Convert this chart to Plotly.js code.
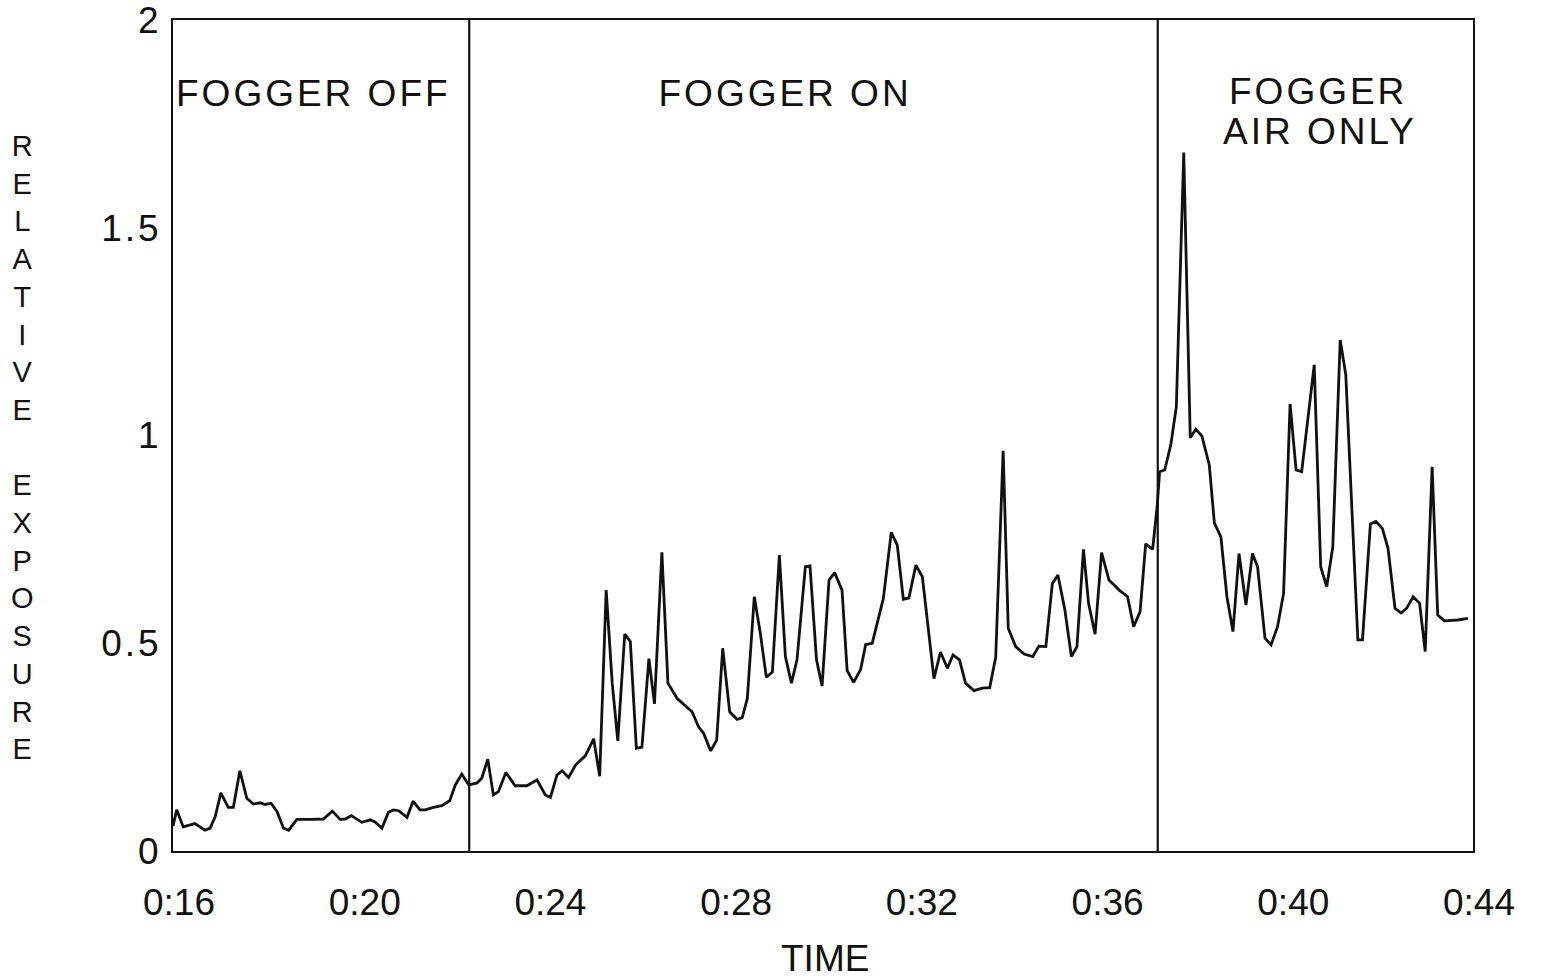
<!DOCTYPE html>
<html>
<head>
<meta charset="utf-8">
<script src="https://cdn.plot.ly/plotly-3.0.1.min.js"></script>
<style>
  html, body { margin: 0; padding: 0; background: #ffffff; }
  #chart { width: 1544px; height: 979px; }
  #chart .annotation-text.phase { letter-spacing: 3px; }
  #chart .ytick text { letter-spacing: 3px; }
</style>
</head>
<body>
<div id="chart"></div>
<script>
// Time in minutes after start (0:16 = 16 min)
const timeMin = [
  16.00, 16.08, 16.22, 16.47, 16.69, 16.80, 16.91, 17.03, 17.19, 17.30,
  17.44, 17.59, 17.73, 17.88, 17.98, 18.11, 18.24, 18.38, 18.49, 18.67,
  18.95, 19.24, 19.43, 19.60, 19.71, 19.84, 20.07, 20.25, 20.35, 20.50,
  20.64, 20.75, 20.86, 21.04, 21.17, 21.32, 21.43, 21.61, 21.79, 21.96,
  22.08, 22.22, 22.37, 22.55, 22.65, 22.78, 22.90, 23.01, 23.17, 23.37,
  23.62, 23.84, 24.02, 24.13, 24.27, 24.38, 24.52, 24.67, 24.88, 25.06,
  25.19, 25.33, 25.46, 25.58, 25.73, 25.85, 25.98, 26.10, 26.25, 26.37,
  26.53, 26.66, 26.86, 27.18, 27.32, 27.43, 27.58, 27.71, 27.84, 27.99,
  28.15, 28.26, 28.37, 28.52, 28.65, 28.78, 28.91, 29.06, 29.19, 29.32,
  29.44, 29.62, 29.72, 29.86, 29.98, 30.13, 30.25, 30.41, 30.52, 30.66,
  30.81, 30.92, 31.06, 31.30, 31.47, 31.60, 31.73, 31.85, 32.00, 32.14,
  32.39, 32.53, 32.68, 32.80, 32.94, 33.07, 33.25, 33.43, 33.59, 33.72,
  33.88, 33.99, 34.15, 34.33, 34.52, 34.65, 34.80, 34.94, 35.06, 35.21,
  35.35, 35.47, 35.61, 35.72, 35.86, 36.00, 36.16, 36.38, 36.56, 36.69,
  36.83, 36.95, 37.10, 37.20, 37.25, 37.36, 37.49, 37.61, 37.77, 37.91,
  38.03, 38.16, 38.32, 38.43, 38.57, 38.70, 38.83, 38.96, 39.11, 39.25,
  39.36, 39.52, 39.65, 39.79, 39.92, 40.06, 40.19, 40.31, 40.58, 40.72,
  40.85, 40.98, 41.14, 41.26, 41.52, 41.62, 41.79, 41.91, 42.05, 42.17,
  42.32, 42.45, 42.57, 42.71, 42.85, 42.97, 43.12, 43.24, 43.38, 43.67,
  43.89
];

const relativeExposure = [
  0.060, 0.099, 0.058, 0.066, 0.050, 0.055, 0.083, 0.140, 0.105, 0.105,
  0.193, 0.127, 0.113, 0.116, 0.112, 0.115, 0.095, 0.055, 0.050, 0.076,
  0.076, 0.077, 0.096, 0.076, 0.077, 0.085, 0.069, 0.075, 0.070, 0.055,
  0.093, 0.099, 0.097, 0.081, 0.120, 0.099, 0.099, 0.105, 0.109, 0.121,
  0.159, 0.185, 0.159, 0.164, 0.175, 0.221, 0.135, 0.143, 0.189, 0.157,
  0.157, 0.171, 0.135, 0.129, 0.183, 0.193, 0.177, 0.207, 0.229, 0.270,
  0.180, 0.628, 0.404, 0.265, 0.522, 0.504, 0.247, 0.250, 0.463, 0.354,
  0.719, 0.404, 0.367, 0.335, 0.299, 0.283, 0.241, 0.267, 0.488, 0.335,
  0.317, 0.321, 0.367, 0.612, 0.524, 0.418, 0.431, 0.712, 0.468, 0.404,
  0.460, 0.684, 0.686, 0.460, 0.397, 0.652, 0.670, 0.628, 0.434, 0.406,
  0.437, 0.497, 0.500, 0.608, 0.767, 0.736, 0.606, 0.609, 0.688, 0.660,
  0.415, 0.479, 0.440, 0.472, 0.460, 0.404, 0.386, 0.392, 0.393, 0.466,
  0.963, 0.536, 0.492, 0.474, 0.468, 0.493, 0.492, 0.644, 0.664, 0.580,
  0.468, 0.492, 0.726, 0.596, 0.522, 0.718, 0.652, 0.628, 0.612, 0.540,
  0.576, 0.739, 0.726, 0.833, 0.913, 0.917, 0.977, 1.069, 1.681, 0.995,
  1.015, 0.999, 0.929, 0.789, 0.756, 0.612, 0.528, 0.716, 0.592, 0.716,
  0.684, 0.512, 0.496, 0.540, 0.620, 1.076, 0.917, 0.913, 1.170, 0.684,
  0.636, 0.732, 1.230, 1.146, 0.508, 0.508, 0.787, 0.793, 0.776, 0.728,
  0.584, 0.573, 0.584, 0.612, 0.596, 0.480, 0.925, 0.568, 0.554, 0.556,
  0.560
];

// Phase boundaries (minutes)
const phaseBoundaries = [22.38, 37.21];

// Tick labels
const xTickVals = [16, 20, 24, 28, 32, 36, 40, 44];
const xTickText = ['0:16', '0:20', '0:24', '0:28', '0:32', '0:36', '0:40', '0:44'];
const yTickVals = [0, 0.5, 1, 1.5, 2];
const yTickText = ['0', '0.5', '1', '1.5', '2'];

// Phase label texts
const phaseLabels = ['FOGGER OFF', 'FOGGER ON', 'FOGGER', 'AIR ONLY'];
const yTitle = 'RELATIVE EXPOSURE';
const xTitle = 'TIME';

const FONT = 'Liberation Sans, Arial, Helvetica, sans-serif';
const INK = '#111111';

const trace = {
  x: timeMin,
  y: relativeExposure,
  type: 'scatter',
  mode: 'lines',
  line: { color: INK, width: 2.8 },
  hoverinfo: 'x+y',
  showlegend: false
};

const shapes = phaseBoundaries.map(b => ({
  type: 'line', xref: 'x', yref: 'paper',
  x0: b, x1: b, y0: 0, y1: 1,
  line: { color: INK, width: 2.2 }
}));

const labelFont = { family: FONT, size: 37, color: INK };

const annotations = [
  { x: 19.02, y: 1.824, text: phaseLabels[0] },
  { x: 29.19, y: 1.824, text: phaseLabels[1] },
  { x: 40.66, y: 1.828, text: phaseLabels[2] },
  { x: 40.70, y: 1.731, text: phaseLabels[3] }
].map(a => Object.assign({
  xref: 'x', yref: 'y', showarrow: false,
  xanchor: 'center', yanchor: 'middle', font: labelFont
}, a));

// Stacked vertical y-axis title
annotations.push({
  xref: 'paper', yref: 'paper',
  x: -0.116, y: 0.486,
  xanchor: 'center', yanchor: 'middle',
  showarrow: false,
  text: yTitle.split('').map(c => c === ' ' ? '&nbsp;' : c).join('<br>'),
  font: { family: FONT, size: 29, color: INK }
});

// x-axis title
annotations.push({
  xref: 'paper', yref: 'paper',
  x: 0.5015, y: -0.129,
  xanchor: 'center', yanchor: 'middle',
  showarrow: false,
  text: xTitle,
  font: { family: FONT, size: 37, color: INK }
});

const layout = {
  width: 1544,
  height: 979,
  margin: { l: 173, r: 71, t: 20, b: 128, pad: 0 },
  paper_bgcolor: '#ffffff',
  plot_bgcolor: '#ffffff',
  showlegend: false,
  xaxis: {
    range: [16, 44],
    tickmode: 'array',
    tickvals: xTickVals,
    ticktext: xTickText,
    ticks: '',
    showgrid: false,
    zeroline: false,
    showline: true,
    mirror: true,
    linecolor: INK,
    linewidth: 2,
    ticklabelstandoff: 18,
    ticklabelshift: 6,
    ticklabeloverflow: 'allow',
    tickfont: { family: FONT, size: 37, color: INK }
  },
  yaxis: {
    range: [0, 2.0001],
    tickmode: 'array',
    tickvals: yTickVals,
    ticktext: yTickText,
    ticks: '',
    showgrid: false,
    zeroline: false,
    showline: true,
    mirror: true,
    linecolor: INK,
    linewidth: 2,
    ticklabelstandoff: 2,
    ticklabeloverflow: 'allow',
    tickfont: { family: FONT, size: 37, color: INK }
  },
  shapes: shapes,
  annotations: annotations
};

Plotly.newPlot('chart', [trace], layout, { staticPlot: true, displayModeBar: false }).then(gd => {
  // mark the phase labels so the stylesheet can give them the wider tracking of the original
  const nodes = gd.querySelectorAll('.annotation-text');
  nodes.forEach(n => {
    if (phaseLabels.indexOf(n.textContent) !== -1) n.classList.add('phase');
  });
});
</script>
</body>
</html>
